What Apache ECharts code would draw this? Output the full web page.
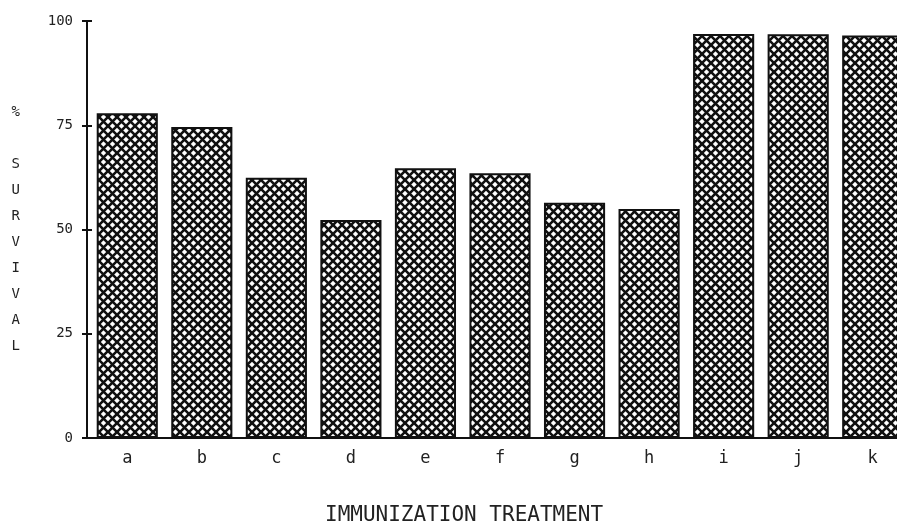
<!DOCTYPE html>
<html>
<head>
<meta charset="utf-8">
<script src="https://cdn.jsdelivr.net/npm/echarts@6/dist/echarts.min.js"></script>
<style>
  html, body { margin: 0; padding: 0; background: #fff; overflow: hidden; }
  #chart { width: 915px; height: 528px; }
</style>
</head>
<body>
<div id="chart"></div>
<script>
// data
const categories = ['a', 'b', 'c', 'd', 'e', 'f', 'g', 'h', 'i', 'j', 'k'];
const survival = [77.9, 74.6, 62.4, 52.3, 64.7, 63.5, 56.4, 54.9, 96.9, 96.8, 96.5];
const yTicks = [0, 25, 50, 75, 100];

// crosshatch fill
function hatch() {
  const s = 9;
  const c = document.createElement('canvas');
  c.width = s; c.height = s;
  const g = c.getContext('2d');
  g.fillStyle = '#fff';
  g.fillRect(0, 0, s, s);
  g.strokeStyle = '#111';
  g.lineWidth = 2.6;
  for (let o = -s; o <= s; o += s) {
    g.beginPath();
    g.moveTo(o - 1, -1); g.lineTo(o + s + 1, s + 1);
    g.moveTo(o - 1, s + 1); g.lineTo(o + s + 1, -1);
    g.stroke();
  }
  return c;
}

const font = 'DejaVu Sans Mono';
const chart = echarts.init(document.getElementById('chart'));

const option = {
  backgroundColor: '#fff',
  animation: false,
  title: {
    text: 'IMMUNIZATION TREATMENT',
    left: 320,
    top: 500,
    textStyle: { fontFamily: font, fontSize: 21, fontWeight: 'normal', color: '#222' }
  },
  // chart div is wider than the window so the last bar runs off the edge
  grid: { left: 90, right: 5, top: 21, bottom: 90 },
  xAxis: {
    type: 'category',
    data: categories,
    axisLine: { lineStyle: { color: '#111', width: 2 } },
    axisTick: { show: false },
    axisLabel: { fontFamily: font, fontSize: 17, color: '#222', margin: 12 }
  },
  yAxis: [
    {
      type: 'value',
      min: 0, max: 100, interval: 25,
      offset: 3,
      name: '%\n\nS\nU\nR\nV\nI\nV\nA\nL',
      nameLocation: 'middle',
      nameRotate: 0,
      nameGap: 67,
      nameTextStyle: { fontFamily: font, fontSize: 14, color: '#222', lineHeight: 26 },
      axisLine: { show: true, lineStyle: { color: '#111', width: 2 } },
      axisTick: { show: true, length: 5, lineStyle: { color: '#111', width: 2 } },
      splitLine: { show: false },
      axisLabel: {
        fontFamily: font, fontSize: 14, color: '#222', margin: 14,
        formatter: v => yTicks.includes(v) ? String(v) : ''
      }
    },
    {
      type: 'value',
      min: 0, max: 100, interval: 25,
      position: 'left',
      offset: 3,
      axisLine: { show: false },
      axisTick: { show: true, inside: true, length: 5, lineStyle: { color: '#111', width: 2 } },
      axisLabel: { show: false },
      splitLine: { show: false }
    }
  ],
  series: [
    {
      type: 'bar',
      data: survival,
      barWidth: '82%',
      itemStyle: {
        color: { image: hatch(), repeat: 'repeat' },
        borderColor: '#111',
        borderWidth: 2
      }
    }
  ]
};
chart.setOption(option);
</script>
</body>
</html>
